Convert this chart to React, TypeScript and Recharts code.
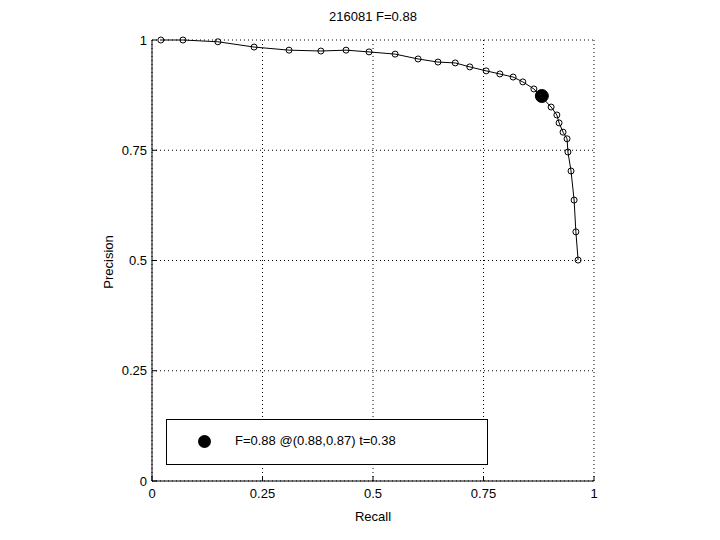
import React from 'react';
import {
  ComposedChart,
  Line,
  XAxis,
  YAxis,
  CartesianGrid,
  ReferenceDot,
} from 'recharts';

// precision / recall curve
const recall = [
  0.02, 0.07, 0.149, 0.231, 0.31, 0.382, 0.439, 0.491, 0.55, 0.602, 0.647,
  0.686, 0.719, 0.756, 0.787, 0.817, 0.839, 0.864, 0.903, 0.916, 0.921,
  0.93, 0.939, 0.941, 0.948, 0.955, 0.959, 0.964,
];
const precision = [
  1.0, 1.0, 0.996, 0.984, 0.977, 0.975, 0.977, 0.973, 0.968, 0.957, 0.95,
  0.948, 0.939, 0.93, 0.923, 0.916, 0.905, 0.889, 0.848, 0.83, 0.812, 0.791,
  0.776, 0.746, 0.703, 0.637, 0.565, 0.501,
];
const ticks = [0, 0.25, 0.5, 0.75, 1];
const tickLabels = ['0', '0.25', '0.5', '0.75', '1'];

const bestRecall = 0.882;
const bestPrecision = 0.873;
const titleText = '216081 F=0.88';
const legendText = 'F=0.88 @(0.88,0.87) t=0.38';

const font = '"Liberation Sans", Arial, sans-serif';

const data = recall.map((r, i) => ({ recall: r, precision: precision[i] }));
const fmt = (v: number) => tickLabels[ticks.indexOf(v)] ?? String(v);
const tickStyle = { fontSize: 13, fill: '#000', fontFamily: font };

export default function App() {
  return (
    <div
      style={{
        position: 'absolute',
        left: 0,
        top: 0,
        width: 720,
        height: 540,
        background: '#fff',
        fontFamily: font,
      }}
    >
      <ComposedChart
        width={720}
        height={540}
        data={data}
        margin={{ top: 40, right: 126, bottom: 19, left: 102 }}
      >
        <CartesianGrid stroke="#000" strokeDasharray="1 3" />
        <XAxis
          dataKey="recall"
          type="number"
          domain={[0, 1]}
          ticks={ticks}
          tickFormatter={fmt}
          height={40}
          tickSize={-5}
          tickMargin={13}
          stroke="#000"
          tick={tickStyle}
          interval={0}
        />
        <XAxis
          xAxisId="top"
          orientation="top"
          type="number"
          domain={[0, 1]}
          ticks={ticks}
          tickFormatter={() => ''}
          height={0}
          tickSize={-5}
          stroke="#000"
        />
        <YAxis
          type="number"
          domain={[0, 1]}
          ticks={ticks}
          tickFormatter={fmt}
          width={50}
          tickSize={-5}
          tickMargin={10}
          stroke="#000"
          tick={tickStyle}
          interval={0}
        />
        <YAxis
          yAxisId="right"
          orientation="right"
          type="number"
          domain={[0, 1]}
          ticks={ticks}
          tickFormatter={() => ''}
          width={0}
          tickSize={-5}
          stroke="#000"
        />
        <Line
          dataKey="precision"
          stroke="#000"
          strokeWidth={1}
          dot={{ r: 3, stroke: '#000', strokeWidth: 1, fill: 'none' }}
          isAnimationActive={false}
        />
        <ReferenceDot
          x={bestRecall}
          y={bestPrecision}
          r={6.5}
          fill="#000"
          stroke="#000"
        />
      </ComposedChart>

      <div
        style={{
          position: 'absolute',
          left: 0,
          width: 746,
          top: 9,
          textAlign: 'center',
          fontSize: 13,
        }}
      >
        {titleText}
      </div>
      <div
        style={{
          position: 'absolute',
          left: 0,
          width: 746,
          top: 509,
          textAlign: 'center',
          fontSize: 13,
        }}
      >
        Recall
      </div>
      <div
        style={{
          position: 'absolute',
          left: 108,
          top: 262,
          fontSize: 13,
          transform: 'translate(-50%, -50%) rotate(-90deg)',
          whiteSpace: 'nowrap',
        }}
      >
        Precision
      </div>
      <div
        style={{
          position: 'absolute',
          left: 166,
          top: 419,
          width: 320,
          height: 44,
          border: '1px solid #000',
          background: '#fff',
          boxSizing: 'content-box',
        }}
      >
        <div
          style={{
            position: 'absolute',
            left: 31,
            top: 15,
            width: 13,
            height: 13,
            borderRadius: '50%',
            background: '#000',
          }}
        />
        <div
          style={{
            position: 'absolute',
            left: 68,
            top: 13,
            fontSize: 13,
            whiteSpace: 'nowrap',
          }}
        >
          {legendText}
        </div>
      </div>
    </div>
  );
}
